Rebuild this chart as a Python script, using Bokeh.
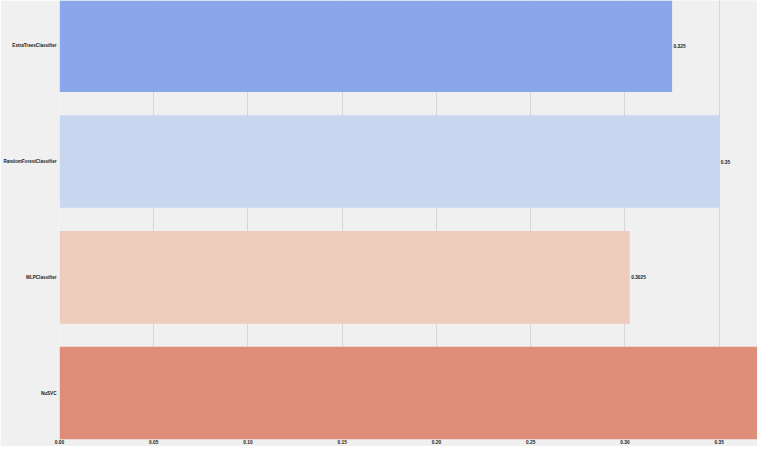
from bokeh.plotting import figure
from bokeh.models import Range1d, FixedTicker, ColumnDataSource
from bokeh.core.properties import value
from bokeh.embed import file_html
from bokeh.resources import INLINE

models = ["ExtraTreesClassifier", "RandomForestClassifier", "MLPClassifier", "NuSVC"]
scores = [0.325, 0.35, 0.3025, 0.39]
colors = ["#8AA7EB", "#C9D6F0", "#EDCCBC", "#DE8E78"]
score_labels = ["0.325", "0.35", "0.3025", "0.39"]
x_ticks = [0.0, 0.05, 0.10, 0.15, 0.20, 0.25, 0.30, 0.35]
x_tick_labels = ["0.00", "0.05", "0.10", "0.15", "0.20", "0.25", "0.30", "0.35"]

x_end = 0.3703
pos = list(range(len(models)))
src = ColumnDataSource(dict(y=pos, score=scores, color=colors))
vis = [i for i in pos if scores[i] < x_end]
lab_src = ColumnDataSource(dict(y=[pos[i] for i in vis], score=[scores[i] for i in vis],
                                label=[score_labels[i] for i in vis]))

p = figure(width=757, height=446, output_backend="svg", toolbar_location=None,
           x_range=Range1d(0, x_end), y_range=Range1d(3.40, -0.39),
           min_border_left=58, min_border_right=0, min_border_top=0, min_border_bottom=5)
p.background_fill_color = "#f0f0f0"
p.border_fill_color = "#f0f0f0"
p.outline_line_color = None

p.hbar(y="y", left=0, right="score", height=0.8, color="color", line_color=None, source=src)
p.text(x="score", y="y", text="label", source=lab_src, x_offset=1.5,
       text_font=value("Liberation Sans"), text_font_size="4.8px", text_font_style="bold",
       text_baseline="middle", text_align="left", text_color="#222222")

font = "Liberation Sans"
p.xaxis.ticker = FixedTicker(ticks=x_ticks)
p.xaxis.major_label_overrides = {t: l for t, l in zip(x_ticks, x_tick_labels)}
p.yaxis.ticker = FixedTicker(ticks=pos)
p.yaxis.major_label_overrides = {i: m for i, m in zip(pos, models)}
for ax in (p.xaxis, p.yaxis):
    ax.axis_line_color = None
    ax.major_tick_line_color = None
    ax.minor_tick_line_color = None
    ax.major_tick_out = 0
    ax.major_tick_in = 0
    ax.major_label_text_font = font
    ax.major_label_text_color = "#222222"
    ax.major_label_text_font_style = "bold"
p.xaxis.major_label_text_font_size = "4.8px"
p.yaxis.major_label_text_font_size = "4.6px"
p.xaxis.major_label_standoff = 0
p.yaxis.major_label_standoff = 3

p.xgrid.grid_line_color = "#d6d6d6"
p.xgrid.grid_line_width = 1
p.ygrid.grid_line_color = None

open("out.html", "w").write(file_html(p, INLINE))
